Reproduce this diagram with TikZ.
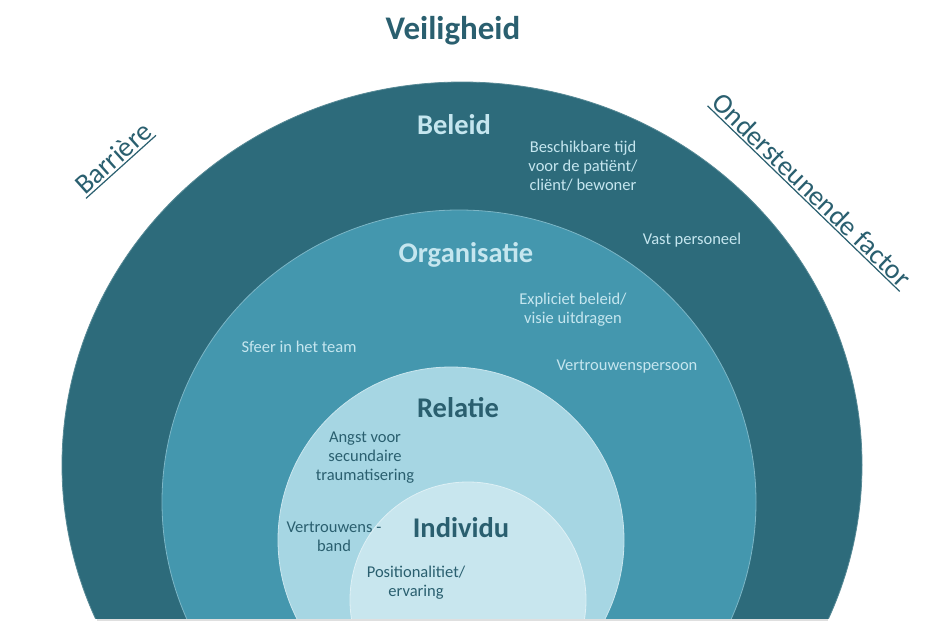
\documentclass[tikz,border=0pt]{standalone}
\usepackage{fontspec}
\setmainfont{Carlito}
\definecolor{cOuter}{HTML}{2D6B7B}
\definecolor{cOrg}{HTML}{4497AE}
\definecolor{cRel}{HTML}{A6D6E3}
\definecolor{cInd}{HTML}{C8E6EE}
\definecolor{cLight}{HTML}{C5E6EF}
\definecolor{cDark}{HTML}{2A5F6F}
\begin{document}
\begin{tikzpicture}[x=1pt,y=-1pt,
  layerlabel/.style={font=\fontsize{28.5}{30}\selectfont\bfseries},
  smalltext/.style={font=\fontsize{16.5}{19}\selectfont, align=center, inner sep=0pt},
  sidelabel/.style={font=\fontsize{28}{30}\selectfont, text=cDark, inner xsep=1pt, inner ysep=2pt},
  underline/.style={draw=cDark, line width=1.2pt},
  ring/.style={line width=0.8pt}]
\useasboundingbox (0,0) rectangle (938,630);
% shadow line at bottom
\fill[gray!25] (97,618) rectangle (828,621);
\begin{scope}
\clip (0,0) rectangle (938,618);
\filldraw[ring, fill=cOuter, draw=cOuter!80!white] (462,465) ellipse [x radius=400, y radius=383];
\filldraw[ring, fill=cOrg, draw=cOrg!70!white] (459,502) ellipse [x radius=297, y radius=292];
\filldraw[ring, fill=cRel, draw=cRel!60!white] (451,540) circle (173);
\filldraw[ring, fill=cInd, draw=cInd!60!white] (468,600) circle (118);
\end{scope}
% title
\node[font=\fontsize{33}{35}\selectfont\bfseries, text=cDark] (title) at (453,31) {Veiligheid};
% side labels
\node[sidelabel, rotate=42] (barriere) at (113,158) {Barrière};
\draw[underline] (barriere.south west) -- (barriere.south east);
\node[sidelabel, rotate=-44] (ondersteunend) at (812,190) {Ondersteunende factor};
\draw[underline] (ondersteunend.south west) -- (ondersteunend.south east);
% layer labels
\node[layerlabel, text=cLight] (beleid) at (454,125) {Beleid};
\node[layerlabel, text=cLight] (organisatie) at (466,255) {Organisatie};
\node[layerlabel, text=cDark] (relatie) at (458,408) {Relatie};
\node[layerlabel, text=cDark] (individu) at (461,528) {Individu};
% beleid texts
\node[smalltext, text=cLight] (tijd) at (583,166) {Beschikbare tijd\\voor de patiënt/\\cliënt/ bewoner};
\node[smalltext, text=cLight] (vast) at (692,240) {Vast personeel};
% organisatie texts
\node[smalltext, text=cLight] (expliciet) at (573,310) {Expliciet beleid/\\visie uitdragen};
\node[smalltext, text=cLight] (sfeer) at (299,347) {Sfeer in het team};
\node[smalltext, text=cLight] (vertrouwenspersoon) at (627,367) {Vertrouwenspersoon};
% relatie texts
\node[smalltext, text=cDark] (angst) at (365,458) {Angst voor\\secundaire\\traumatisering};
\node[smalltext, text=cDark] (band) at (334,537) {Vertrouwens -\\band};
% individu texts
\node[smalltext, text=cDark] (positie) at (416,583) {Positionalitiet/\\ervaring};
\end{tikzpicture}
\end{document}
